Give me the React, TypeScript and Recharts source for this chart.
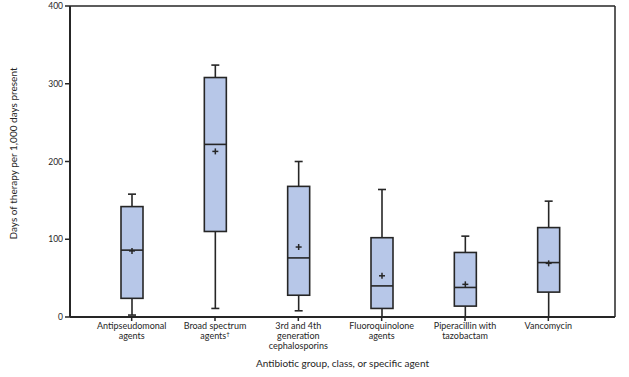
import { ComposedChart, Bar, XAxis, YAxis, Label } from "recharts";

const categories = [
  "Antipseudomonal|agents",
  "Broad spectrum|agents†",
  "3rd and 4th|generation|cephalosporins",
  "Fluoroquinolone|agents",
  "Piperacillin with|tazobactam",
  "Vancomycin",
];
const whiskerLow = [2.5, 11, 8, 0, 0, 0];
const q1 = [24, 110, 28, 11, 14, 32];
const median = [86, 222, 76, 40, 38, 70];
const mean = [85, 213, 90, 53, 42, 69];
const q3 = [142, 308, 168, 102, 83, 115];
const whiskerHigh = [158, 324, 200, 164, 104, 149];
const yTicks = [0, 100, 200, 300, 400];

const data = categories.map((name, i) => ({
  name,
  range: [whiskerLow[i], whiskerHigh[i]],
  low: whiskerLow[i],
  q1: q1[i],
  median: median[i],
  mean: mean[i],
  q3: q3[i],
  high: whiskerHigh[i],
}));

const INK = "#262626";
const FONT = "Lato, 'Open Sans', sans-serif";

function BoxShape(props: any) {
  const { x, y, width, height, payload } = props;
  const top = Math.min(y, y + height);
  const bottom = Math.max(y, y + height);
  const { low, high } = payload;
  // map value to pixel along the bar's own range
  const py = (v: number) =>
    high === low ? bottom : bottom - ((v - low) / (high - low)) * (bottom - top);
  const cx = x + width / 2;
  const cap = 4;
  const boxTop = py(payload.q3);
  const boxBottom = py(payload.q1);
  const my = py(payload.mean);
  return (
    <g>
      <line x1={cx} x2={cx} y1={py(high)} y2={boxTop} stroke={INK} strokeWidth={1.6} />
      <line x1={cx} x2={cx} y1={boxBottom} y2={py(low)} stroke={INK} strokeWidth={1.6} />
      <line x1={cx - cap} x2={cx + cap} y1={py(high)} y2={py(high)} stroke={INK} strokeWidth={1.6} />
      <line x1={cx - cap} x2={cx + cap} y1={py(low)} y2={py(low)} stroke={INK} strokeWidth={1.6} />
      <rect
        x={x}
        y={boxTop}
        width={width}
        height={boxBottom - boxTop}
        fill="#b7c7e8"
        stroke={INK}
        strokeWidth={1.6}
      />
      <line x1={x} x2={x + width} y1={py(payload.median)} y2={py(payload.median)} stroke={INK} strokeWidth={1.6} />
      <line x1={cx - 3} x2={cx + 3} y1={my} y2={my} stroke={INK} strokeWidth={1.5} />
      <line x1={cx} x2={cx} y1={my - 3} y2={my + 3} stroke={INK} strokeWidth={1.5} />
    </g>
  );
}

function CategoryTick(props: any) {
  const { x, y, payload } = props;
  const lines = String(payload.value).split("|");
  return (
    <text x={x} y={y + 6} textAnchor="middle" fontSize={9} fontFamily={FONT} fill={INK}>
      {lines.map((line, i) => {
        const dagger = line.endsWith("†");
        return (
          <tspan key={i} x={x} dy={i === 0 ? 0 : 10}>
            {dagger ? line.slice(0, -1) : line}
            {dagger && (
              <tspan fontSize={6} dy={-3}>
                †
              </tspan>
            )}
          </tspan>
        );
      })}
    </text>
  );
}

export default function App() {
  return (
    <div style={{ position: "absolute", left: 0, top: 0, background: "#fff" }}>
      <ComposedChart
        width={629}
        height={377}
        data={data}
        margin={{ top: 5, right: 13, bottom: 0, left: 8 }}
        barCategoryGap={0}
      >
        <XAxis
          dataKey="name"
          xAxisId="bottom"
          padding={{ left: 20, right: 25 }}
          axisLine={{ stroke: INK, strokeWidth: 2 }}
          tickLine={{ stroke: INK, strokeWidth: 1.5 }}
          tickSize={4}
          interval={0}
          tick={<CategoryTick />}
          height={60}
        >
          <Label
            value="Antibiotic group, class, or specific agent"
            position="insideBottom"
            offset={10}
            style={{ fontSize: 10, fontFamily: FONT, fill: INK }}
          />
        </XAxis>
        <XAxis
          dataKey="name"
          xAxisId="top"
          orientation="top"
          axisLine={{ stroke: INK, strokeWidth: 1.5 }}
          tick={false}
          tickLine={false}
          height={1}
        />
        <YAxis
          yAxisId="left"
          domain={[0, 400]}
          ticks={yTicks}
          width={62}
          axisLine={{ stroke: INK, strokeWidth: 2 }}
          tickLine={{ stroke: INK, strokeWidth: 1.5 }}
          tickSize={5}
          tickMargin={2}
          tick={{ fontSize: 8.5, fontFamily: FONT, fill: INK }}
        >
          <Label
            value="Days of therapy per 1,000 days present"
            angle={-90}
            position="insideLeft"
            offset={5}
            dy={-8}
            style={{ fontSize: 10, fontFamily: FONT, fill: INK, textAnchor: "middle" }}
          />
        </YAxis>
        <YAxis
          yAxisId="right"
          orientation="right"
          domain={[0, 400]}
          axisLine={{ stroke: INK, strokeWidth: 1.5 }}
          tick={false}
          tickLine={false}
          width={1}
        />
        <Bar
          dataKey="range"
          xAxisId="bottom"
          yAxisId="left"
          barSize={22}
          shape={<BoxShape />}
          isAnimationActive={false}
        />
      </ComposedChart>
    </div>
  );
}
